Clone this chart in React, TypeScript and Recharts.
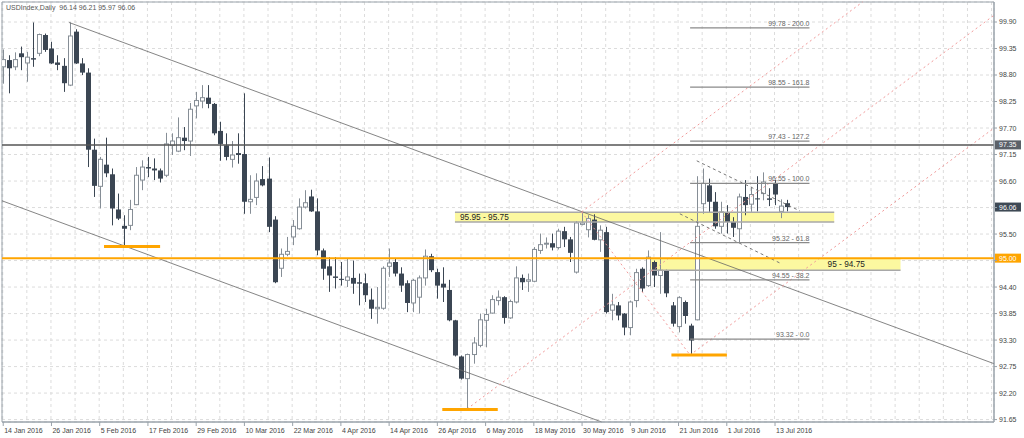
import {
  ComposedChart,
  Bar,
  XAxis,
  YAxis,
  CartesianGrid,
  ReferenceLine,
  ReferenceArea,
} from "recharts";

const FONT = "'Liberation Sans', Arial, sans-serif";
const AXIS = "#9aa3ab";
const DOWN = "#3b4653";
const UP = "#868e96";
const PINK = "#f19a9a";
const ORANGE = "#ffa500";

// x axis: one slot per trading day, labels every 8 days
const tickIdx = [0, 8, 16, 24, 32, 40, 48, 56, 64, 72, 80, 88, 96, 104, 112, 120, 128];
const tickLabels = [
  "14 Jan 2016", "26 Jan 2016", "5 Feb 2016", "17 Feb 2016", "29 Feb 2016",
  "10 Mar 2016", "22 Mar 2016", "4 Apr 2016", "14 Apr 2016", "26 Apr 2016",
  "6 May 2016", "18 May 2016", "30 May 2016", "9 Jun 2016", "21 Jun 2016",
  "1 Jul 2016", "13 Jul 2016",
];
const gridIdx = [
  0, 4, 8, 12, 16, 20, 24, 28, 32, 36, 40, 44, 48, 52, 56, 60, 64, 68, 72, 76, 80,
  84, 88, 92, 96, 100, 104, 108, 112, 116, 120, 124, 128, 132, 136, 140, 144, 148,
  152, 156, 160, 164,
];
const priceTicks = [
  91.65, 92.2, 92.75, 93.3, 93.85, 94.4, 94.95, 95.5, 96.05, 96.6, 97.15, 97.7,
  98.25, 98.8, 99.35, 99.9,
];

// daily candles, 14 Jan 2016 .. 15 Jul 2016
const open = [
  98.97, 99.11, 98.97, 99.25, 99.05, 99.15, 99.25, 99.63, 99.35, 99.06,
  98.99, 98.59, 99.7, 99.04, 98.85, 97.25, 96.49, 96.94, 96.74, 96.01,
  95.67, 95.68, 96.11, 96.62, 96.89, 96.86, 96.82, 96.72, 97.34, 97.22,
  97.5, 97.43, 98.16, 98.26, 98.33, 98.2, 97.64, 97.34, 97.05, 97.18,
  97.16, 96.17, 96.26, 96.64, 96.65, 95.8, 94.79, 95.08, 95.44, 95.61,
  96.06, 96.28, 95.97, 95.16, 94.83, 94.62, 94.57, 94.54, 94.59, 94.5,
  94.48, 94.14, 93.95, 93.96, 94.83, 94.92, 94.68, 94.48, 94.07, 94.19,
  94.59, 95.04, 94.71, 94.47, 94.34, 93.71, 92.96, 92.5, 93.0, 93.19,
  93.71, 93.86, 94.12, 94.19, 93.76, 94.09, 94.59, 94.52, 94.52, 95.16,
  95.29, 95.31, 95.22, 95.56, 95.39, 94.71, 95.7, 95.59, 95.8, 95.38,
  95.54, 93.92, 94.02, 93.85, 93.56, 94.12, 94.78, 94.43, 94.92, 94.64,
  94.75, 94.02, 93.58, 94.09, 93.6, 93.72, 96.13, 96.51, 96.17, 95.66,
  95.94, 95.75, 95.61, 96.27, 96.12, 96.24, 96.34, 96.24, 96.55, 95.97,
  96.14,
];
const high = [
  99.33, 99.21, 99.27, 99.39, 99.28, 99.89, 99.66, 99.66, 99.49, 99.21,
  99.15, 99.89, 99.75, 99.15, 98.94, 97.48, 97.1, 97.5, 96.86, 96.34,
  95.89, 96.21, 96.89, 97.03, 97.1, 97.07, 96.86, 97.6, 97.59, 97.92,
  97.72, 98.22, 98.45, 98.59, 98.59, 98.22, 97.83, 97.59, 97.43, 97.59,
  98.42, 96.72, 96.76, 96.91, 97.09, 95.87, 95.2, 95.44, 95.79, 96.24,
  96.41, 96.42, 96.24, 95.2, 95.02, 95.02, 94.92, 94.99, 94.95, 94.68,
  94.68, 94.37, 94.4, 94.83, 95.2, 95.0, 94.81, 94.54, 94.57, 94.64,
  95.18, 95.09, 94.78, 94.81, 94.55, 93.72, 92.98, 93.02, 93.36, 93.85,
  93.95, 94.23, 94.33, 94.21, 94.14, 94.83, 94.66, 94.68, 95.23, 95.51,
  95.43, 95.51, 95.61, 95.65, 95.44, 95.77, 95.96, 95.89, 95.91, 95.68,
  95.65, 94.26, 94.09, 93.86, 94.12, 94.78, 94.81, 95.16, 94.95, 95.54,
  94.76, 94.09, 94.21, 94.12, 93.64, 96.7, 96.86, 96.65, 96.37, 96.17,
  96.1, 95.85, 96.34, 96.62, 96.48, 96.7, 96.78, 96.45, 96.62, 96.22,
  96.21,
];
const low = [
  98.62, 98.42, 98.9, 98.9, 98.66, 98.97, 99.19, 99.28, 99.03, 98.9,
  98.45, 98.57, 99.03, 98.8, 96.89, 96.27, 96.03, 96.68, 95.68, 95.79,
  95.27, 95.58, 96.1, 96.41, 96.68, 96.62, 96.57, 96.68, 97.14, 97.2,
  97.24, 97.12, 97.9, 98.11, 98.11, 97.55, 97.02, 97.03, 96.88, 96.96,
  95.92, 95.92, 96.1, 96.49, 95.54, 94.48, 94.61, 95.04, 95.27, 95.59,
  96.03, 95.96, 95.06, 94.55, 94.3, 94.37, 94.43, 94.4, 94.26, 94.02,
  94.09, 93.74, 93.64, 93.93, 94.61, 94.62, 94.3, 93.88, 93.88, 93.85,
  94.43, 94.71, 94.16, 94.09, 93.69, 92.96, 92.48, 91.87, 92.81, 93.15,
  93.15, 93.85, 94.02, 93.64, 93.74, 94.06, 94.34, 94.3, 94.5, 95.09,
  95.2, 95.16, 95.18, 95.23, 94.92, 94.68, 95.68, 95.43, 95.37, 95.13,
  93.85, 93.71, 93.71, 93.4, 93.4, 93.98, 94.3, 94.4, 94.4, 94.26,
  94.19, 93.58, 93.46, 93.64, 93.0, 93.71, 95.92, 95.96, 95.61, 95.51,
  95.51, 95.44, 95.33, 95.89, 95.96, 95.97, 96.2, 96.08, 96.1, 95.83,
  95.97,
];
const close = [
  99.12, 98.94, 99.12, 99.17, 99.17, 99.12, 99.64, 99.32, 99.04, 99.01,
  98.63, 99.61, 99.04, 98.85, 97.25, 96.5, 97.05, 96.76, 96.03, 95.82,
  95.61, 96.01, 96.72, 96.89, 96.86, 96.82, 96.65, 97.37, 97.43, 97.5,
  97.43, 98.09, 98.27, 98.33, 98.2, 97.59, 97.37, 97.1, 97.14, 97.14,
  96.17, 96.22, 96.6, 96.51, 95.65, 94.5, 95.08, 95.14, 95.66, 96.06,
  96.15, 95.97, 95.16, 94.78, 94.64, 94.59, 94.55, 94.61, 94.47, 94.47,
  94.23, 93.95, 93.98, 94.79, 94.9, 94.68, 94.43, 94.07, 94.54, 94.59,
  95.04, 94.75, 94.43, 94.39, 93.71, 92.98, 92.5, 93.0, 93.24, 93.72,
  93.83, 94.14, 94.19, 93.76, 94.1, 94.59, 94.5, 94.55, 95.18, 95.28,
  95.31, 95.22, 95.56, 95.39, 95.11, 95.73, 95.73, 95.82, 95.38, 95.58,
  93.88, 94.03, 93.81, 93.56, 94.09, 94.7, 94.37, 95.02, 94.64, 94.75,
  94.27, 93.64, 94.18, 93.8, 93.29, 95.66, 96.55, 96.17, 95.66, 95.96,
  95.75, 95.63, 96.27, 96.1, 96.32, 96.22, 96.58, 96.21, 96.32, 96.08,
  96.06,
];

// drawn objects (bar index, price)
const fibLevels = [99.78, 98.55, 97.43, 96.55, 95.32, 94.55, 93.32];
const fibRatios = ["200.0", "161.8", "127.2", "100.0", "61.8", "38.2", "0.0"];
const supportMarks = [
  { from: 16.8, to: 26.1, price: 95.24 },
  { from: 72.9, to: 82.1, price: 91.86 },
  { from: 110.9, to: 120.1, price: 92.99 },
];
const channelLines = [
  [11, 99.89, 164.4, 92.81],
  [-0.12, 96.19, 99.34, 91.6],
];
const pinkLines = [
  [77, 91.87, 164.4, 100.04],
  [114, 92.99, 164.4, 97.7],
  [96, 95.96, 142.6, 100.315],
  [96, 95.96, 114, 92.99],
];
const flagLines = [
  [115.1, 97.02, 132.2, 95.98],
  [112.3, 95.92, 129.2, 94.88],
];
const tagPrices = [97.35, 96.06, 95.0];

const X_DOMAIN = [-0.12, 164.4];
const Y_DOMAIN = [91.6, 100.315];

const chartData = open.map((o, i) => ({
  i,
  range: [low[i], high[i]],
  open: o,
  high: high[i],
  low: low[i],
  close: close[i],
}));

const labelAt: Record<number, string> = {};
tickIdx.forEach((t, k) => (labelAt[t] = tickLabels[k]));

function DateTick(props: any) {
  const { x, y, payload } = props;
  const text = labelAt[payload.value];
  if (!text) return null;
  return (
    <g>
      <line x1={x + 0.5} x2={x + 0.5} y1={y - 4} y2={y} stroke={AXIS} />
      <text x={x + 1.5} y={y + 6.5} fontSize={7} fill="#444" fontFamily={FONT}>
        {text}
      </text>
    </g>
  );
}

// price labels hidden under a price tag are not drawn
function PriceTick(props: any) {
  const { x, y, payload } = props;
  const v = payload.value as number;
  if (tagPrices.some((t) => Math.abs(t - v) < 0.08)) return null;
  return (
    <text x={x} y={y} dy="0.355em" fontSize={7} fill="#444" fontFamily={FONT}>
      {v.toFixed(2)}
    </text>
  );
}

function Candle(props: any) {
  const { x, y, width, height, payload } = props;
  if (x == null || !payload) return null;
  const { open, close, high, low } = payload;
  const k = height / (high - low || 1);
  const yO = y + (high - open) * k;
  const yC = y + (high - close) * k;
  const cx = Math.round(x + width / 2);
  const top = Math.min(yO, yC);
  const bh = Math.max(Math.abs(yO - yC), 1);
  if (close > open) {
    return (
      <g>
        <line x1={cx + 0.5} x2={cx + 0.5} y1={y} y2={y + height} stroke={UP} />
        <rect x={cx - 1.5} y={top} width={4} height={bh} fill="#fff" stroke={UP} />
      </g>
    );
  }
  return (
    <g>
      <line x1={cx + 0.5} x2={cx + 0.5} y1={y} y2={y + height} stroke={DOWN} />
      <rect x={cx - 2} y={top} width={5} height={bh} fill={DOWN} />
    </g>
  );
}

function priceTag(text: string, bg: string) {
  return (p: any) => {
    const vb = p.viewBox;
    const yy = vb.y;
    return (
      <g>
        <rect x={vb.x + vb.width + 1} y={yy - 4.5} width={26} height={9} fill={bg} />
        <text x={vb.x + vb.width + 5} y={yy + 2.5} fontSize={7} fill="#fff" fontFamily={FONT}>
          {text}
        </text>
      </g>
    );
  };
}

export default function App() {
  return (
    <div style={{ position: "absolute", left: 0, top: 0, width: 1024, height: 438, background: "#fff" }}>
      <ComposedChart
        width={1024}
        height={438}
        data={chartData}
        margin={{ top: 2, right: 0, bottom: 0, left: 2 }}
      >
        <CartesianGrid stroke="#dcdcdc" strokeDasharray="3 3" />
        <XAxis
          dataKey="i"
          type="number"
          domain={X_DOMAIN}
          allowDataOverflow
          ticks={gridIdx}
          interval={0}
          tick={<DateTick />}
          tickLine={false}
          tickSize={4}
          tickMargin={0}
          axisLine={{ stroke: AXIS }}
          height={16}
        />
        <YAxis
          orientation="right"
          domain={Y_DOMAIN}
          allowDataOverflow
          ticks={priceTicks}
          interval={0}
          width={30}
          tick={<PriceTick />}
          tickSize={3}
          tickMargin={2}
          tickLine={{ stroke: AXIS }}
          axisLine={{ stroke: AXIS }}
        />

        <ReferenceArea
          x1={X_DOMAIN[0]}
          x2={X_DOMAIN[1]}
          y1={Y_DOMAIN[0]}
          y2={Y_DOMAIN[1]}
          fill="none"
          stroke={AXIS}
          ifOverflow="visible"
        />

        <ReferenceArea
          x1={75}
          x2={137.9}
          y1={95.75}
          y2={95.95}
          fill="#fcf8a0"
          fillOpacity={1}
          ifOverflow="visible"
          label={(p: any) => (
            <text
              x={p.viewBox.x + 5}
              y={p.viewBox.y + p.viewBox.height / 2 + 3}
              fontSize={8.3}
              fill="#222"
              fontFamily={FONT}
            >
              95.95 - 95.75
            </text>
          )}
        />
        <ReferenceLine segment={[{ x: 75, y: 95.95 }, { x: 137.9, y: 95.95 }]} stroke="#a8a8a8" strokeWidth={1.5} ifOverflow="visible" />
        <ReferenceLine segment={[{ x: 75, y: 95.75 }, { x: 137.9, y: 95.75 }]} stroke="#a8a8a8" strokeWidth={1.5} ifOverflow="visible" />

        <ReferenceArea
          x1={107.3}
          x2={148.9}
          y1={94.75}
          y2={95.0}
          fill="#fcf8a0"
          fillOpacity={1}
          ifOverflow="visible"
          label={(p: any) => (
            <text
              x={p.viewBox.x + p.viewBox.width - 73}
              y={p.viewBox.y + p.viewBox.height / 2 + 3}
              fontSize={8.3}
              fill="#222"
              fontFamily={FONT}
            >
              95 - 94.75
            </text>
          )}
        />
        <ReferenceLine segment={[{ x: 107.3, y: 94.75 }, { x: 148.9, y: 94.75 }]} stroke="#a8a8a8" strokeWidth={1.5} ifOverflow="visible" />

        {channelLines.map((l, k) => (
          <ReferenceLine
            key={"ch" + k}
            segment={[{ x: l[0], y: l[1] }, { x: l[2], y: l[3] }]}
            stroke="#666"
            strokeWidth={0.8}
            ifOverflow="visible"
          />
        ))}
        {pinkLines.map((l, k) => (
          <ReferenceLine
            key={"pk" + k}
            segment={[{ x: l[0], y: l[1] }, { x: l[2], y: l[3] }]}
            stroke={PINK}
            strokeDasharray="2 3"
            ifOverflow="visible"
          />
        ))}
        {flagLines.map((l, k) => (
          <ReferenceLine
            key={"fl" + k}
            segment={[{ x: l[0], y: l[1] }, { x: l[2], y: l[3] }]}
            stroke="#777"
            strokeDasharray="3 3"
            ifOverflow="visible"
          />
        ))}
        {fibLevels.map((lv, k) => (
          <ReferenceLine
            key={"fib" + k}
            segment={[{ x: 114, y: lv }, { x: 133.8, y: lv }]}
            stroke="#8a8a8a"
            strokeWidth={1.2}
            ifOverflow="visible"
            label={(p: any) => (
              <text
                x={p.viewBox.x + p.viewBox.width}
                y={p.viewBox.y - 2}
                textAnchor="end"
                fontSize={7}
                fill="#666"
                fontFamily={FONT}
              >
                {lv.toFixed(2) + " - " + fibRatios[k]}
              </text>
            )}
          />
        ))}

        <Bar dataKey="range" barSize={5} shape={Candle} isAnimationActive={false} />

        <ReferenceLine y={97.35} stroke="#555" strokeWidth={1.5} label={priceTag("97.35", "#5b6169")} />
        <ReferenceLine y={95.0} stroke={ORANGE} strokeWidth={2} label={priceTag("95.00", ORANGE)} />
        <ReferenceLine y={96.06} stroke="none" label={priceTag("96.06", "#3e4955")} />

        {supportMarks.map((s, k) => (
          <ReferenceLine
            key={"sp" + k}
            segment={[{ x: s.from, y: s.price }, { x: s.to, y: s.price }]}
            stroke={ORANGE}
            strokeWidth={3}
            ifOverflow="visible"
          />
        ))}
      </ComposedChart>
      <div
        style={{
          position: "absolute",
          left: 6,
          top: 4,
          fontSize: 7,
          lineHeight: "7px",
          fontFamily: FONT,
          color: "#555",
          whiteSpace: "pre",
        }}
      >
        {"USDIndex,Daily  96.14 96.21 95.97 96.06"}
      </div>
    </div>
  );
}
